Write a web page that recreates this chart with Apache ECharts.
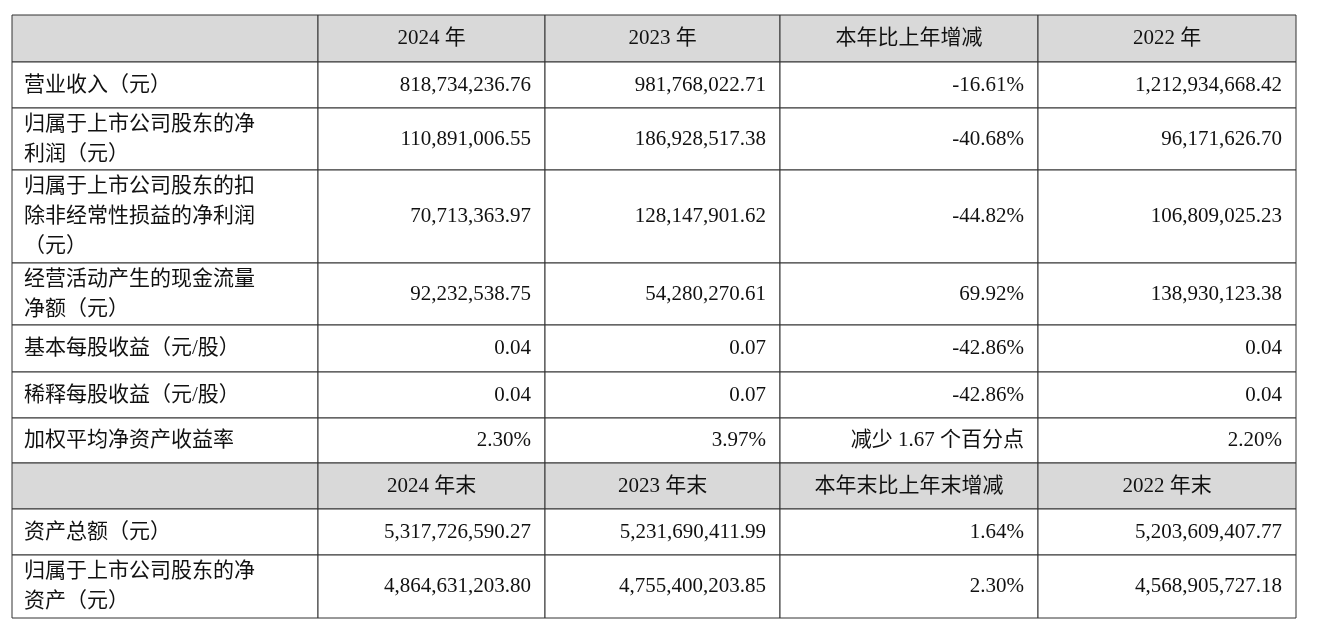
<!DOCTYPE html>
<html><head><meta charset="utf-8">
<script src="https://cdn.jsdelivr.net/npm/echarts@6/dist/echarts.min.js"></script>
<style>html,body{margin:0;padding:0;background:#fff}#c{width:1318px;height:632px}</style>
</head><body><div id="c"></div>
<script>
const headers1 = ["", "2024 年", "2023 年", "本年比上年增减", "2022 年"];
const headers2 = ["", "2024 年末", "2023 年末", "本年末比上年末增减", "2022 年末"];
const labels = ["营业收入（元）", "归属于上市公司股东的净\n利润（元）", "归属于上市公司股东的扣\n除非经常性损益的净利润\n（元）", "经营活动产生的现金流量\n净额（元）", "基本每股收益（元/股）", "稀释每股收益（元/股）", "加权平均净资产收益率"];
const v2024 = ["818,734,236.76", "110,891,006.55", "70,713,363.97", "92,232,538.75", "0.04", "0.04", "2.30%"];
const v2023 = ["981,768,022.71", "186,928,517.38", "128,147,901.62", "54,280,270.61", "0.07", "0.07", "3.97%"];
const vChg = ["-16.61%", "-40.68%", "-44.82%", "69.92%", "-42.86%", "-42.86%", "减少 1.67 个百分点"];
const v2022 = ["1,212,934,668.42", "96,171,626.70", "106,809,025.23", "138,930,123.38", "0.04", "0.04", "2.20%"];
const labels2 = ["资产总额（元）", "归属于上市公司股东的净\n资产（元）"];
const e2024 = ["5,317,726,590.27", "4,864,631,203.80"];
const e2023 = ["5,231,690,411.99", "4,755,400,203.85"];
const eChg = ["1.64%", "2.30%"];
const e2022 = ["5,203,609,407.77", "4,568,905,727.18"];

const colEdges = [0, 306, 533, 768, 1026, 1284];
const rowEdges = [0, 47, 93, 155, 248, 310, 357, 403, 448, 494, 540, 603];

const rows = [];
rows.push({cells: headers1, header: true});
labels.forEach((l, i) => rows.push({cells: [l, v2024[i], v2023[i], vChg[i], v2022[i]]}));
rows.push({cells: headers2, header: true});
labels2.forEach((l, i) => rows.push({cells: [l, e2024[i], e2023[i], eChg[i], e2022[i]]}));

const data = [];
rows.forEach((r, ri) => r.cells.forEach((t, ci) => {
  data.push([colEdges[ci], colEdges[ci+1], rowEdges[ri], rowEdges[ri+1], t, r.header ? 1 : 0, ci]);
}));

const chart = echarts.init(document.getElementById('c'));
chart.setOption({
  animation: false,
  grid: {left: 12, right: 22, top: 15, bottom: 14},
  xAxis: {type: 'value', min: 0, max: 1284, show: false},
  yAxis: {type: 'value', min: 0, max: 603, inverse: true, show: false},
  series: [{
    type: 'custom',
    data: data,
    renderItem: function (params, api) {
      const p1 = api.coord([api.value(0), api.value(2)]);
      const p2 = api.coord([api.value(1), api.value(3)]);
      const header = api.value(5) === 1;
      const ci = api.value(6);
      const text = data[params.dataIndex][4];
      let x, align;
      if (header) { x = (p1[0] + p2[0]) / 2; align = 'center'; }
      else if (ci === 0) { x = p1[0] + 12; align = 'left'; }
      else { x = p2[0] - 14; align = 'right'; }
      return {type: 'group', children: [
        {type: 'rect', shape: {x: p1[0], y: p1[1], width: p2[0]-p1[0], height: p2[1]-p1[1]},
         style: {fill: header ? '#d9d9d9' : '#fff', stroke: '#333', lineWidth: 1}},
        {type: 'text', style: {x: x, y: (p1[1]+p2[1])/2, text: text, align: align, verticalAlign: 'middle',
          font: '21px "Liberation Serif", "Noto Sans CJK SC", serif', fill: '#111', lineHeight: 30}}
      ]};
    }
  }]
});
</script></body></html>
